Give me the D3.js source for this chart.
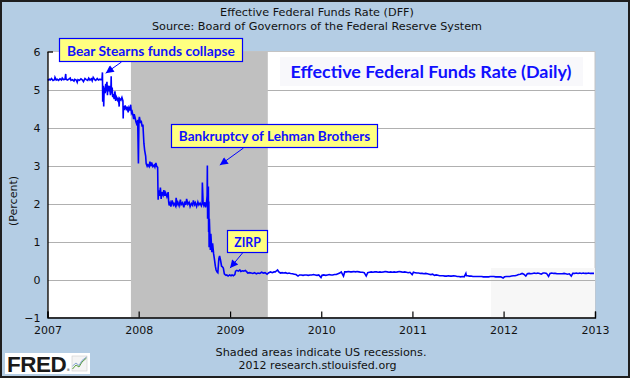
<!DOCTYPE html>
<html><head><meta charset="utf-8">
<script src="https://cdn.jsdelivr.net/npm/d3@7"></script>
<style>html,body{margin:0;padding:0;background:#fff}svg{display:block}</style>
</head><body>
<svg id="c" width="630" height="378"></svg>
<script>
// ---------------- DATA ----------------
const chartTitle = "Effective Federal Funds Rate (DFF)";
const chartSource = "Source: Board of Governors of the Federal Reserve System";
const seriesLabel = "Effective Federal Funds Rate (Daily)";
const yAxisLabel = "(Percent)";
const footNote1 = "Shaded areas indicate US recessions.";
const footNote2 = "2012 research.stlouisfed.org";
const yTicks = [-1, 0, 1, 2, 3, 4, 5, 6];
const xTicks = ["2007", "2008", "2009", "2010", "2011", "2012", "2013"];
const recessions = [["2007-12-01", "2009-06-01"]];
const annotTexts = ["Bear Stearns funds collapse", "Bankruptcy of Lehman Brothers", "ZIRP"];
const annotTipDates = ["2007-08-22", "2008-11-21", "2009-01-01"];
const annotTipValues = [5.43, 3.01, 0.30];
const dff = [
["2007-01-02",5.24],["2007-01-08",5.27],["2007-01-12",5.25],["2007-01-17",5.29],["2007-01-23",5.24],["2007-01-29",5.26],["2007-01-31",5.32],
["2007-02-05",5.25],["2007-02-09",5.27],["2007-02-14",5.24],["2007-02-20",5.28],["2007-02-26",5.25],["2007-03-01",5.30],["2007-03-06",5.26],
["2007-03-12",5.27],["2007-03-15",5.41],["2007-03-16",5.28],["2007-03-21",5.25],["2007-03-27",5.27],["2007-04-02",5.30],["2007-04-05",5.24],
["2007-04-11",5.26],["2007-04-17",5.22],["2007-04-20",5.27],["2007-04-26",5.25],["2007-04-30",5.19],["2007-05-03",5.26],["2007-05-09",5.24],
["2007-05-15",5.28],["2007-05-21",5.25],["2007-05-25",5.21],["2007-05-31",5.29],["2007-06-05",5.26],["2007-06-11",5.24],["2007-06-15",5.30],
["2007-06-20",5.25],["2007-06-26",5.28],["2007-06-29",5.23],["2007-07-03",5.32],["2007-07-09",5.26],["2007-07-13",5.24],["2007-07-19",5.29],
["2007-07-24",5.25],["2007-07-30",5.27],["2007-08-02",5.26],["2007-08-07",5.26],["2007-08-09",5.45],["2007-08-10",4.68],["2007-08-13",5.10],
["2007-08-14",4.55],["2007-08-16",5.05],["2007-08-20",4.90],["2007-08-22",5.15],["2007-08-24",4.95],["2007-08-27",5.20],["2007-08-29",4.85],
["2007-08-31",5.10],["2007-09-04",4.95],["2007-09-06",5.10],["2007-09-10",4.85],["2007-09-12",5.05],["2007-09-13",5.35],["2007-09-14",4.90],
["2007-09-17",5.05],["2007-09-19",4.80],["2007-09-21",4.88],["2007-09-25",4.75],["2007-09-28",4.95],["2007-10-01",4.70],["2007-10-04",4.80],
["2007-10-09",4.72],["2007-10-12",4.78],["2007-10-15",4.55],["2007-10-16",4.77],["2007-10-22",4.72],["2007-10-26",4.79],["2007-10-30",4.70],
["2007-10-31",4.24],["2007-11-01",4.55],["2007-11-05",4.50],["2007-11-08",4.58],["2007-11-13",4.45],["2007-11-16",4.55],["2007-11-20",4.40],
["2007-11-23",4.52],["2007-11-27",4.45],["2007-11-30",4.60],["2007-12-03",4.38],["2007-12-06",4.42],["2007-12-10",4.30],["2007-12-12",4.22],
["2007-12-14",4.35],["2007-12-18",4.25],["2007-12-21",4.15],["2007-12-26",4.05],["2007-12-28",4.20],["2007-12-31",3.05],
["2008-01-02",4.20],["2008-01-04",4.28],["2008-01-08",4.12],["2008-01-11",4.18],["2008-01-15",4.02],["2008-01-18",4.08],["2008-01-22",3.58],
["2008-01-25",3.40],["2008-01-29",3.25],["2008-01-31",3.05],["2008-02-04",2.98],["2008-02-07",3.02],["2008-02-12",2.97],["2008-02-15",3.10],
["2008-02-19",2.98],["2008-02-22",3.08],["2008-02-27",2.97],["2008-03-03",3.01],["2008-03-06",2.96],["2008-03-10",3.07],["2008-03-13",2.98],
["2008-03-17",2.95],["2008-03-18",2.45],["2008-03-19",2.10],["2008-03-21",2.35],["2008-03-25",2.20],["2008-03-28",2.42],["2008-03-31",2.12],
["2008-04-03",2.30],["2008-04-08",2.22],["2008-04-11",2.35],["2008-04-15",2.20],["2008-04-18",2.28],["2008-04-23",2.18],["2008-04-28",2.30],
["2008-04-30",2.05],["2008-05-02",1.95],["2008-05-06",2.02],["2008-05-09",1.92],["2008-05-14",2.08],["2008-05-19",1.96],["2008-05-22",2.00],
["2008-05-28",1.93],["2008-05-30",2.15],["2008-06-03",1.98],["2008-06-06",2.03],["2008-06-11",1.94],["2008-06-16",2.10],["2008-06-19",1.97],
["2008-06-24",2.02],["2008-06-30",1.90],["2008-07-03",2.05],["2008-07-08",1.96],["2008-07-11",2.12],["2008-07-16",1.98],["2008-07-21",2.03],
["2008-07-25",1.92],["2008-07-30",2.00],["2008-08-04",1.95],["2008-08-07",2.08],["2008-08-12",1.97],["2008-08-15",2.02],["2008-08-20",1.92],
["2008-08-25",2.04],["2008-08-29",1.96],["2008-09-03",2.01],["2008-09-08",1.94],["2008-09-11",2.00],["2008-09-12",2.55],["2008-09-15",2.02],
["2008-09-18",1.95],["2008-09-22",2.03],["2008-09-25",1.90],["2008-09-29",2.05],["2008-10-01",2.20],["2008-10-02",3.00],["2008-10-03",1.60],
["2008-10-06",2.45],["2008-10-07",1.25],["2008-10-08",2.05],["2008-10-09",0.85],["2008-10-10",1.60],["2008-10-14",0.78],["2008-10-16",1.20],
["2008-10-20",0.72],["2008-10-23",0.95],["2008-10-27",0.68],["2008-10-30",0.55],["2008-11-03",0.35],["2008-11-06",0.25],["2008-11-10",0.20],
["2008-11-13",0.18],["2008-11-17",0.55],["2008-11-20",0.62],["2008-11-24",0.50],["2008-11-28",0.35],["2008-12-02",0.33],["2008-12-05",0.30],
["2008-12-09",0.15],["2008-12-12",0.13],["2008-12-16",0.11],["2008-12-19",0.12],["2008-12-24",0.09],["2008-12-30",0.12],
["2009-01-05",0.10],["2009-01-09",0.12],["2009-01-14",0.10],["2009-01-20",0.13],["2009-01-23",0.22],["2009-01-28",0.24],["2009-02-03",0.22],
["2009-02-09",0.25],["2009-02-13",0.21],["2009-02-19",0.23],["2009-02-25",0.22],["2009-03-03",0.24],["2009-03-09",0.20],["2009-03-13",0.17],
["2009-03-20",0.18],["2009-03-27",0.17],["2009-04-02",0.16],["2009-04-09",0.18],["2009-04-16",0.15],["2009-04-23",0.17],["2009-04-30",0.16],
["2009-05-07",0.19],["2009-05-14",0.17],["2009-05-21",0.18],["2009-05-29",0.14],["2009-06-05",0.18],["2009-06-12",0.20],["2009-06-19",0.18],
["2009-06-26",0.20],["2009-07-01",0.20],["2009-07-06",0.23],["2009-07-10",0.25],["2009-07-14",0.21],["2009-07-17",0.19],["2009-07-22",0.17],
["2009-07-28",0.18],["2009-08-04",0.17],["2009-08-11",0.18],["2009-08-18",0.16],["2009-08-25",0.17],["2009-08-31",0.16],["2009-09-08",0.15],
["2009-09-15",0.14],["2009-09-22",0.13],["2009-09-30",0.09],["2009-10-06",0.12],["2009-10-13",0.12],["2009-10-20",0.11],["2009-10-27",0.12],
["2009-11-03",0.12],["2009-11-10",0.11],["2009-11-17",0.12],["2009-11-24",0.12],["2009-12-01",0.13],["2009-12-08",0.12],["2009-12-15",0.11],
["2009-12-22",0.12],["2009-12-31",0.05],["2010-01-04",0.11],["2010-01-11",0.12],["2010-01-19",0.11],["2010-01-26",0.12],["2010-02-02",0.13],
["2010-02-09",0.12],["2010-02-16",0.12],["2010-02-23",0.13],["2010-03-02",0.13],["2010-03-09",0.15],["2010-03-16",0.17],["2010-03-22",0.20],
["2010-03-31",0.09],["2010-04-05",0.20],["2010-04-13",0.20],["2010-04-20",0.21],["2010-04-27",0.20],["2010-05-04",0.20],["2010-05-11",0.21],
["2010-05-18",0.20],["2010-05-25",0.21],["2010-06-01",0.20],["2010-06-08",0.19],["2010-06-15",0.19],["2010-06-22",0.18],["2010-06-30",0.09],
["2010-07-06",0.18],["2010-07-13",0.19],["2010-07-20",0.20],["2010-07-27",0.19],["2010-08-03",0.20],["2010-08-10",0.20],["2010-08-17",0.19],
["2010-08-24",0.20],["2010-08-31",0.19],["2010-09-08",0.20],["2010-09-15",0.21],["2010-09-22",0.20],["2010-09-29",0.19],["2010-10-06",0.20],
["2010-10-13",0.19],["2010-10-20",0.20],["2010-10-27",0.19],["2010-11-03",0.20],["2010-11-10",0.21],["2010-11-17",0.20],["2010-11-24",0.19],
["2010-12-01",0.20],["2010-12-08",0.19],["2010-12-15",0.18],["2010-12-22",0.19],["2010-12-31",0.13],["2011-01-05",0.19],["2011-01-12",0.18],
["2011-01-19",0.17],["2011-01-26",0.17],["2011-02-02",0.16],["2011-02-09",0.16],["2011-02-16",0.15],["2011-02-23",0.16],["2011-03-02",0.15],
["2011-03-09",0.14],["2011-03-16",0.13],["2011-03-23",0.14],["2011-03-30",0.11],["2011-04-06",0.12],["2011-04-13",0.11],["2011-04-20",0.10],
["2011-04-27",0.10],["2011-05-04",0.10],["2011-05-11",0.09],["2011-05-18",0.09],["2011-05-25",0.10],["2011-06-01",0.09],["2011-06-08",0.09],
["2011-06-15",0.10],["2011-06-22",0.09],["2011-06-29",0.08],["2011-07-06",0.08],["2011-07-13",0.07],["2011-07-20",0.08],["2011-07-27",0.07],
["2011-08-03",0.16],["2011-08-05",0.10],["2011-08-10",0.10],["2011-08-17",0.09],["2011-08-24",0.09],["2011-08-31",0.08],["2011-09-07",0.08],
["2011-09-14",0.08],["2011-09-21",0.08],["2011-09-28",0.08],["2011-10-05",0.08],["2011-10-12",0.07],["2011-10-19",0.07],["2011-10-26",0.07],
["2011-11-02",0.07],["2011-11-09",0.08],["2011-11-16",0.08],["2011-11-23",0.08],["2011-11-30",0.07],["2011-12-07",0.07],["2011-12-14",0.07],
["2011-12-21",0.07],["2011-12-30",0.04],["2012-01-05",0.07],["2012-01-12",0.08],["2012-01-19",0.08],["2012-01-26",0.08],["2012-02-02",0.09],
["2012-02-09",0.10],["2012-02-16",0.10],["2012-02-23",0.11],["2012-03-01",0.13],["2012-03-08",0.14],["2012-03-15",0.16],["2012-03-22",0.14],
["2012-03-30",0.09],["2012-04-05",0.15],["2012-04-12",0.16],["2012-04-19",0.15],["2012-04-26",0.16],["2012-05-03",0.17],["2012-05-10",0.16],
["2012-05-17",0.17],["2012-05-24",0.16],["2012-05-31",0.14],["2012-06-07",0.17],["2012-06-14",0.17],["2012-06-21",0.16],["2012-06-29",0.08],
["2012-07-05",0.16],["2012-07-12",0.17],["2012-07-19",0.16],["2012-07-26",0.16],["2012-08-02",0.15],["2012-08-09",0.15],["2012-08-16",0.15],
["2012-08-23",0.15],["2012-08-30",0.16],["2012-09-06",0.15],["2012-09-13",0.14],["2012-09-20",0.15],["2012-09-28",0.09],["2012-10-04",0.16],
["2012-10-11",0.16],["2012-10-18",0.17],["2012-10-25",0.16],["2012-11-01",0.17],["2012-11-08",0.16],["2012-11-15",0.17],["2012-11-22",0.16],
["2012-11-29",0.16],["2012-12-06",0.17],["2012-12-13",0.16],["2012-12-20",0.16],["2012-12-28",0.16]
];

// ---------------- LAYOUT ----------------
const W = 630, H = 378;
const P = {left: 47.5, right: 595, top: 51.5, bottom: 317.5};
const annotLayout = [
  {box: [59.5, 38.5, 183, 23], base: 56, tw: 168, tail: [121.5, 62]},
  {box: [171.5, 124.5, 206, 23], base: 141, tw: 191.5, tail: [243.5, 148]},
  {box: [227.5, 230.5, 40, 22], base: 246.5, tw: 26.5, tail: [242.5, 253]}
];

const parse = d3.timeParse("%Y-%m-%d");
const py = d3.timeParse("%Y");
const data = dff.map(d => ({date: parse(d[0]), value: d[1]}));

const svg = d3.select("#c");
const x = d3.scaleTime().domain([py(xTicks[0]), py(xTicks[xTicks.length - 1])]).range([P.left, P.right]);
const y = d3.scaleLinear().domain([yTicks[0], yTicks[yTicks.length - 1]]).range([P.bottom, P.top]);

function fit(sel, w) {
  const l = sel.node().getComputedTextLength();
  const fs = parseFloat(sel.attr("font-size"));
  sel.attr("font-size", (fs * w / l).toFixed(2));
  return sel;
}
const sans = "DejaVu Sans, Verdana, sans-serif";

// background
svg.append("rect").attr("x", 1).attr("y", 1).attr("width", W - 2).attr("height", H - 2)
  .attr("fill", "#b4cde4").attr("stroke", "#1e1e1e").attr("stroke-width", 2);

// titles
fit(svg.append("text").attr("x", 317).attr("y", 16).attr("text-anchor", "middle")
  .attr("font-family", sans).attr("font-size", 11).attr("fill", "#111").text(chartTitle), 194);
fit(svg.append("text").attr("x", 317).attr("y", 29.5).attr("text-anchor", "middle")
  .attr("font-family", sans).attr("font-size", 11).attr("fill", "#111").text(chartSource), 330);

// plot bg
svg.append("rect").attr("x", P.left).attr("y", P.top).attr("width", P.right - P.left).attr("height", P.bottom - P.top)
  .attr("fill", "#fff").attr("stroke", "#c4c4c4").attr("stroke-width", 1);
svg.append("rect").attr("x", 491).attr("y", 268).attr("width", P.right - 491).attr("height", P.bottom - 268)
  .attr("fill", "#f7f7f7");

// gridlines
const grid = svg.append("g").attr("transform", `translate(${P.left},0)`)
  .call(d3.axisLeft(y).tickValues(yTicks.filter(v => v > yTicks[0] && v < yTicks[yTicks.length - 1]))
    .tickSize(-(P.right - P.left)).tickFormat(""));
grid.select(".domain").remove();
grid.selectAll("line").attr("stroke", "#b0b0b0").attr("shape-rendering", "crispEdges");

// recessions
svg.append("g").selectAll("rect").data(recessions).join("rect")
  .attr("x", d => x(parse(d[0]))).attr("y", P.top)
  .attr("width", d => x(parse(d[1])) - x(parse(d[0]))).attr("height", P.bottom - P.top)
  .attr("fill", "#c0c0c0");

// series label box
svg.append("rect").attr("x", 280).attr("y", 57).attr("width", 303).attr("height", 29).attr("fill", "#f8f8fb");
fit(svg.append("text").attr("x", 431).attr("y", 77.5).attr("text-anchor", "middle")
  .attr("font-family", "Lato, 'Open Sans', sans-serif").attr("font-weight", "bold").attr("font-size", 16)
  .attr("fill", "#1010ff").text(seriesLabel), 281);

// line
svg.append("path").datum(data)
  .attr("d", d3.line().x(d => x(d.date)).y(d => y(d.value)))
  .attr("fill", "none").attr("stroke", "#0000ff").attr("stroke-width", 1.6).attr("stroke-linejoin", "miter");

// y axis
const ya = svg.append("g").attr("transform", `translate(${P.left},0)`)
  .call(d3.axisLeft(y).tickValues(yTicks).tickSize(0).tickPadding(7).tickFormat(d3.format("d")));
ya.select(".domain").attr("stroke", "#000").attr("stroke-width", 1.3);
ya.selectAll("text").attr("font-family", sans).attr("font-size", 11).attr("fill", "#111");
const yt = svg.append("g").attr("transform", `translate(${P.left},0)`)
  .call(d3.axisLeft(y).tickValues([yTicks[yTicks.length - 1]]).tickSize(-5.5).tickFormat(""));
yt.select(".domain").remove();
yt.selectAll("line").attr("stroke", "#000").attr("stroke-width", 1.3);

// x axis
const xa = svg.append("g").attr("transform", `translate(0,${P.bottom})`)
  .call(d3.axisBottom(x).tickValues(xTicks.map(py)).tickSize(-6).tickPadding(8.5).tickFormat(d3.timeFormat("%Y")));
xa.select(".domain").attr("stroke", "#000").attr("stroke-width", 1.3);
xa.selectAll("line").attr("stroke", "#000").attr("stroke-width", 1.2);
xa.selectAll("text").attr("font-family", sans).attr("font-size", 11).attr("fill", "#111");

// y label
svg.append("text").attr("transform", "translate(13,201) rotate(-90)").attr("text-anchor", "middle")
  .attr("dominant-baseline", "central").attr("font-family", sans).attr("font-size", 11).attr("fill", "#111").text(yAxisLabel);

// annotations
const defs = svg.append("defs");
defs.append("marker").attr("id", "ah").attr("viewBox", "0 0 10 10").attr("refX", 10).attr("refY", 5)
  .attr("markerWidth", 10).attr("markerHeight", 8).attr("markerUnits", "userSpaceOnUse").attr("orient", "auto")
  .append("path").attr("d", "M0,0L10,5L0,10Z").attr("fill", "#0000ff");
annotTexts.forEach((t, i) => {
  const L = annotLayout[i];
  const tip = [x(parse(annotTipDates[i])), y(annotTipValues[i])];
  svg.append("line").attr("x1", L.tail[0]).attr("y1", L.tail[1]).attr("x2", tip[0]).attr("y2", tip[1])
    .attr("stroke", "#0000ff").attr("stroke-width", 1).attr("marker-end", "url(#ah)");
  svg.append("rect").attr("x", L.box[0]).attr("y", L.box[1]).attr("width", L.box[2]).attr("height", L.box[3])
    .attr("fill", "#ffff80").attr("stroke", "#0000ff").attr("stroke-width", 1.2);
  fit(svg.append("text").attr("x", L.box[0] + L.box[2] / 2).attr("y", L.base).attr("text-anchor", "middle")
    .attr("font-family", "Lato, 'Open Sans', sans-serif").attr("font-weight", "bold").attr("font-size", 14)
    .attr("fill", "#1010ff").text(t), L.tw);
});

// footer
fit(svg.append("text").attr("x", 321).attr("y", 356).attr("text-anchor", "middle")
  .attr("font-family", sans).attr("font-size", 11).attr("fill", "#111").text(footNote1), 211);
fit(svg.append("text").attr("x", 317.5).attr("y", 369).attr("text-anchor", "middle")
  .attr("font-family", sans).attr("font-size", 11).attr("fill", "#111").text(footNote2), 158);

// FRED logo
const logo = svg.append("g");
logo.append("rect").attr("x", 5).attr("y", 353).attr("width", 85).attr("height", 21).attr("fill", "#fff");
fit(logo.append("text").attr("x", 7).attr("y", 371.5).attr("font-family", "Liberation Sans, Arial, sans-serif")
  .attr("font-weight", "bold").attr("font-size", 21).attr("fill", "#1a1a1a").attr("letter-spacing", -0.5).text("FRED"), 59);
logo.append("text").attr("x", 66.5).attr("y", 371).attr("font-family", sans).attr("font-size", 3.5).attr("fill", "#333").text("®");
logo.append("rect").attr("x", 72).attr("y", 356).attr("width", 15).attr("height", 15).attr("fill", "#f4f4f4").attr("stroke", "#ccc").attr("stroke-width", 0.6);
logo.append("path").attr("d", "M72.5,369 L76,365 L79,367 L82,362 L86.5,358").attr("fill", "none").attr("stroke", "#5a9e3c").attr("stroke-width", 1);
logo.append("path").attr("d", "M72.5,366 L76,363 L79,365.5 L82,360.5 L86.5,357").attr("fill", "none").attr("stroke", "#6a8fc8").attr("stroke-width", 0.8);
</script>
</body></html>
